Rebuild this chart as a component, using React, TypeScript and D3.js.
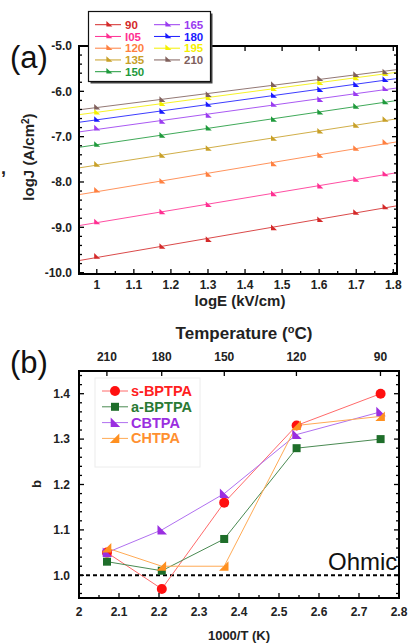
import React from "react";
import * as d3 from "d3";

const FONT = "'Liberation Sans', Arial, Helvetica, sans-serif";

// Panel (a): log J vs log E at each temperature (°C)
const logE = [1.0, 1.176, 1.301, 1.477, 1.602, 1.699, 1.778];
const tempNames = ["90", "I05", "120", "135", "150", "165", "180", "195", "210"];
const tempColors = ["#d42a2a", "#ff2f92", "#ff8040", "#c8a028", "#1f9a3c", "#9a3cf0", "#1a1aff", "#f4f000", "#80605c"];
const logJ90 = [-9.64, -9.42, -9.27, -9.01, -8.83, -8.67, -8.55];
const logJ105 = [-8.88, -8.66, -8.5, -8.26, -8.09, -7.94, -7.82];
const logJ120 = [-8.18, -7.98, -7.83, -7.6, -7.41, -7.26, -7.12];
const logJ135 = [-7.61, -7.41, -7.26, -7.04, -6.88, -6.75, -6.62];
const logJ150 = [-7.17, -6.97, -6.81, -6.62, -6.46, -6.33, -6.23];
const logJ165 = [-6.81, -6.66, -6.53, -6.29, -6.18, -6.05, -5.94];
const logJ180 = [-6.62, -6.44, -6.29, -6.09, -5.96, -5.85, -5.74];
const logJ195 = [-6.46, -6.27, -6.14, -5.94, -5.81, -5.7, -5.61];
const logJ210 = [-6.35, -6.18, -6.07, -5.85, -5.72, -5.63, -5.57];
const logJSeries = [logJ90, logJ105, logJ120, logJ135, logJ150, logJ165, logJ180, logJ195, logJ210];

const aXTicks = [1, 1.1, 1.2, 1.3, 1.4, 1.5, 1.6, 1.7, 1.8];
const aXTickLabels = ["1", "1.1", "1.2", "1.3", "1.4", "1.5", "1.6", "1.7", "1.8"];
const aYTicks = [-10, -9, -8, -7, -6, -5];
const aYTickLabels = ["-10.0", "-9.0", "-8.0", "-7.0", "-6.0", "-5.0"];

// Panel (b): exponent b vs 1000/T for each material
const invT = [2.07, 2.207, 2.363, 2.544, 2.754];
const topTemps = [210, 180, 150, 120, 90];
const materials = ["s-BPTPA", "a-BPTPA", "CBTPA", "CHTPA"];
const matColors = ["#ff1010", "#1e6e2a", "#9a2ee0", "#ff9020"];
const matLineColors = ["#ff6a6a", "#4a8a52", "#b070f0", "#ffaa55"];
const matText = ["#ff2020", "#2a7a34", "#9a2ee0", "#ff9030"];
const bS = [1.05, 0.97, 1.16, 1.33, 1.4];
const bA = [1.03, 1.01, 1.08, 1.28, 1.3];
const bCB = [1.05, 1.1, 1.18, 1.31, 1.36];
const bCH = [1.06, 1.02, 1.02, 1.33, 1.35];
const bSeries = [bS, bA, bCB, bCH];

const bXTicks = [2, 2.1, 2.2, 2.3, 2.4, 2.5, 2.6, 2.7, 2.8];
const bXTickLabels = ["2", "2.1", "2.2", "2.3", "2.4", "2.5", "2.6", "2.7", "2.8"];
const bYTicks = [1.0, 1.1, 1.2, 1.3, 1.4];
const bYTickLabels = ["1.0", "1.1", "1.2", "1.3", "1.4"];

// Plot areas
const A = { l: 79, r: 397, t: 46, b: 274 };
const B = { l: 79, r: 399, t: 371, b: 598 };

const xA = d3.scaleLinear().domain([0.952, 1.81]).range([A.l, A.r]);
const yA = d3.scaleLinear().domain([-10.03, -5.0]).range([A.b, A.t]);
const xB = d3.scaleLinear().domain([2, 2.8]).range([B.l, B.r]);
const yB = d3.scaleLinear().domain([0.95, 1.45]).range([B.b, B.t]);

const smallTri = "M-2.6,-3.2L-2.6,2.4L3.4,2.4Z";
const triLeft = "M-4.3,-5L-4.3,4.5L5.2,4.5Z";
const triRight = "M4.3,-5L4.3,4.5L-5.2,4.5Z";

function fitLine(xs: number[], ys: number[]) {
  const mx = d3.mean(xs) as number;
  const my = d3.mean(ys) as number;
  let num = 0, den = 0;
  xs.forEach((x, i) => { num += (x - mx) * (ys[i] - my); den += (x - mx) * (x - mx); });
  const k = num / den;
  return (x: number) => my + k * (x - mx);
}

function Marker({ kind, x, y, color }: { kind: number; x: number; y: number; color: string }) {
  if (kind === 0) return <circle cx={x} cy={y} r={5} fill={color} />;
  if (kind === 1) return <rect x={x - 4} y={y - 4} width={8} height={8} fill={color} />;
  return <path d={kind === 2 ? triLeft : triRight} transform={`translate(${x},${y})`} fill={color} />;
}

export default function App() {
  const lineA = d3.line<[number, number]>().x(d => xA(d[0])).y(d => yA(d[1]));
  const lineB = d3.line<[number, number]>().x(d => xB(d[0])).y(d => yB(d[1]));
  const dom = xA.domain();

  const aXMinor = d3.range(0.95, 1.811, 0.05).filter(v => v >= dom[0] - 1e-9);
  const aYMinor = d3.range(-10, -4.99, 0.2);
  const bXMinor = d3.range(2, 2.801, 0.05);
  const bYMinor = d3.range(0.96, 1.449, 0.02);

  const isMajor = (v: number, arr: number[]) => arr.some(m => Math.abs(m - v) < 1e-6);

  return (
    <svg width={410} height={643} style={{ position: "absolute", left: 0, top: 0, background: "#fff" }} fontFamily={FONT}>
      <defs>
        <clipPath id="clipA"><rect x={A.l} y={A.t} width={A.r - A.l} height={A.b - A.t} /></clipPath>
        <clipPath id="clipB"><rect x={B.l} y={B.t} width={B.r - B.l} height={B.b - B.t} /></clipPath>
      </defs>

      {/* ---------- Panel (a) ---------- */}
      <g clipPath="url(#clipA)">
        {logJSeries.map((ys, i) => {
          const f = fitLine(logE, ys);
          return (
            <path key={"fl" + i} d={lineA([[dom[0], f(dom[0])], [dom[1], f(dom[1])]]) || ""}
              stroke={tempColors[i]} strokeWidth={1} fill="none" opacity={0.85} />
          );
        })}
        {logJSeries.map((ys, i) =>
          ys.map((v, j) => (
            <path key={`m${i}-${j}`} d={smallTri} transform={`translate(${xA(logE[j])},${yA(v)})`} fill={tempColors[i]} />
          ))
        )}
      </g>

      {/* ticks (a) */}
      <g stroke="#000" strokeWidth={1.3}>
        {aXMinor.map((v, i) => {
          const maj = isMajor(v, aXTicks);
          const len = maj ? 5 : 3;
          return (
            <g key={"axt" + i}>
              <line x1={xA(v)} x2={xA(v)} y1={A.b} y2={A.b - len} />
              {maj && <line x1={xA(v)} x2={xA(v)} y1={A.t} y2={A.t + len} />}
            </g>
          );
        })}
        {aYMinor.map((v, i) => {
          const maj = isMajor(v, aYTicks);
          const len = maj ? 5 : 3;
          return (
            <g key={"ayt" + i}>
              <line x1={A.l} x2={A.l + len} y1={yA(v)} y2={yA(v)} />
              <line x1={A.r} x2={A.r - len} y1={yA(v)} y2={yA(v)} />
            </g>
          );
        })}
      </g>
      <rect x={A.l} y={A.t} width={A.r - A.l} height={A.b - A.t} fill="none" stroke="#000" strokeWidth={2} />

      {aXTicks.map((v, i) => (
        <text key={"axl" + i} x={xA(v)} y={289} fontSize={12} fontWeight="bold" textAnchor="middle" fill="#222">{aXTickLabels[i]}</text>
      ))}
      {aYTicks.map((v, i) => (
        <text key={"ayl" + i} x={72} y={yA(v) + 4.3} fontSize={12} fontWeight="bold" textAnchor="end" fill="#222">{aYTickLabels[i]}</text>
      ))}
      <text x={240} y={306} fontSize={15} fontWeight="bold" textAnchor="middle" fill="#222">logE (kV/cm)</text>
      <text transform="translate(34,157) rotate(-90)" fontSize={15} fontWeight="bold" textAnchor="middle" fill="#222">
        logJ (A/cm<tspan dy={-5} fontSize={10}>2</tspan><tspan dy={5}>)</tspan>
      </text>
      <text x={10} y={68} fontSize={31} fill="#111">(a)</text>
      <text x={1} y={174} fontSize={18} fontWeight="bold" fill="#222">,</text>

      {/* legend (a) */}
      <rect x={90.5} y={13.5} width={122} height={70} fill="#444" />
      <rect x={88.5} y={11.5} width={122} height={70} fill="#fff" stroke="#111" strokeWidth={1.2} />
      {tempNames.map((name, i) => {
        const col = i < 5 ? 0 : 1;
        const row = i < 5 ? i : i - 5;
        const y = 24.7 + row * 11.75;
        const x0 = col === 0 ? 95 : 154;
        return (
          <g key={"lg" + i}>
            <line x1={x0} x2={x0 + 26} y1={y} y2={y} stroke={tempColors[i]} strokeWidth={1} />
            <path d={smallTri} transform={`translate(${x0 + 14},${y - 0.5})`} fill={tempColors[i]} />
            <text x={x0 + 30} y={y + 4.2} fontSize={11.5} fontWeight="bold" fill={tempColors[i]}>{name}</text>
          </g>
        );
      })}

      {/* ---------- Panel (b) ---------- */}
      <text x={244} y={339} fontSize={17} fontWeight="bold" textAnchor="middle" fill="#222">
        Temperature (<tspan fontSize={11} dy={-6}>o</tspan><tspan dy={6}>C)</tspan>
      </text>
      {topTemps.map((t, i) => (
        <text key={"tt" + i} x={xB(1000 / (t + 273.15))} y={361} fontSize={12} fontWeight="bold" textAnchor="middle" fill="#222">{t}</text>
      ))}

      <g clipPath="url(#clipB)">
        <line x1={B.l} x2={B.r} y1={yB(1.0)} y2={yB(1.0)} stroke="#000" strokeWidth={2} strokeDasharray="4,3" />
        {bSeries.map((ys, i) => (
          <path key={"bl" + i} d={lineB(ys.map((v, j) => [invT[j], v] as [number, number])) || ""}
            stroke={matLineColors[i]} strokeWidth={1} fill="none" />
        ))}
        {bSeries.map((ys, i) =>
          ys.map((v, j) => <Marker key={`bm${i}-${j}`} kind={i} x={xB(invT[j])} y={yB(v)} color={matColors[i]} />)
        )}
      </g>
      <text x={328} y={570} fontSize={24} fill="#111">Ohmic</text>

      <g stroke="#000" strokeWidth={1.3}>
        {bXMinor.map((v, i) => {
          const maj = isMajor(v, bXTicks);
          return <line key={"bxt" + i} x1={xB(v)} x2={xB(v)} y1={B.b} y2={B.b - (maj ? 5 : 3)} />;
        })}
        {topTemps.map((t, i) => (
          <line key={"btt" + i} x1={xB(1000 / (t + 273.15))} x2={xB(1000 / (t + 273.15))} y1={B.t} y2={B.t + 5} />
        ))}
        {bYMinor.map((v, i) => {
          const maj = isMajor(v, bYTicks);
          const len = maj ? 5 : 3;
          return (
            <g key={"byt" + i}>
              <line x1={B.l} x2={B.l + len} y1={yB(v)} y2={yB(v)} />
              <line x1={B.r} x2={B.r - len} y1={yB(v)} y2={yB(v)} />
            </g>
          );
        })}
      </g>
      <rect x={B.l} y={B.t} width={B.r - B.l} height={B.b - B.t} fill="none" stroke="#000" strokeWidth={2} />

      {bXTicks.map((v, i) => (
        <text key={"bxl" + i} x={xB(v)} y={616} fontSize={12} fontWeight="bold" textAnchor="middle" fill="#222">{bXTickLabels[i]}</text>
      ))}
      {bYTicks.map((v, i) => (
        <text key={"byl" + i} x={70} y={yB(v) + 4.3} fontSize={12} fontWeight="bold" textAnchor="end" fill="#222">{bYTickLabels[i]}</text>
      ))}
      <text x={239} y={640} fontSize={13} fontWeight="bold" textAnchor="middle" fill="#222">1000/T (K)</text>
      <text transform="translate(41,484) rotate(-90)" fontSize={13} fontWeight="bold" textAnchor="middle" fill="#222">b</text>
      <text x={10} y={373} fontSize={31} fill="#111">(b)</text>

      {/* legend (b) */}
      <rect x={95} y={378} width={105} height={89} fill="#fff" stroke="#ececec" strokeWidth={1} />
      {materials.map((m, i) => {
        const y = 391 + i * 15.8;
        return (
          <g key={"bl" + i}>
            <line x1={102} x2={128} y1={y} y2={y} stroke={matLineColors[i]} strokeWidth={1} />
            <Marker kind={i} x={115} y={y} color={matColors[i]} />
            <text x={131} y={y + 5} fontSize={14.5} fontWeight="bold" fill={matText[i]}>{m}</text>
          </g>
        );
      })}
    </svg>
  );
}
